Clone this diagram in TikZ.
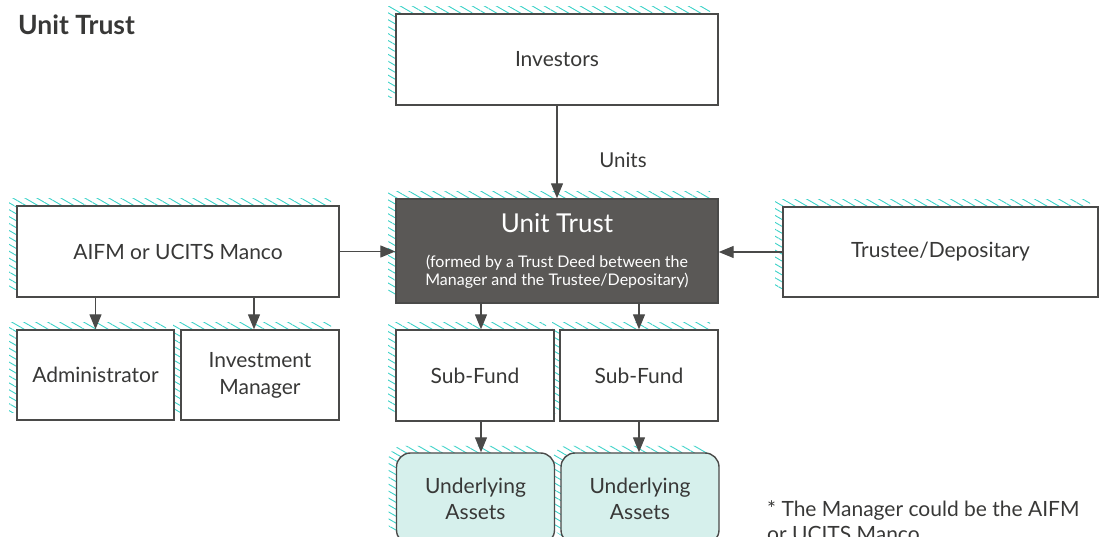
\documentclass[tikz,border=0pt]{standalone}
\usepackage{fontspec}
\setmainfont{Lato}
\usetikzlibrary{arrows.meta,shadows,patterns.meta}
\definecolor{txt}{HTML}{383837}
\definecolor{edge}{HTML}{4A4A49}
\definecolor{dark}{HTML}{5A5856}
\definecolor{mint}{HTML}{D6F0EC}
\definecolor{hatch}{HTML}{3CD2C8}
\newcommand{\subfont}{\fontsize{16}{18}\selectfont}
\tikzset{
  hshadow/.style={general shadow={shadow xshift=-8pt, shadow yshift=7pt, draw=none,
     pattern={Lines[angle=-30,distance=6pt,line width=0.9pt]}, pattern color=hatch}},
  box/.style={draw=edge, line width=1.4pt, fill=white, text=txt, inner sep=0pt,
     align=center, font=\fontsize{21}{27}\selectfont, hshadow},
  darkbox/.style={box, fill=dark, text=white},
  assetbox/.style={box, fill=mint, rounded corners=14pt, font=\fontsize{21}{26}\selectfont},
  conn/.style={draw=edge, line width=1.3pt, -{Triangle[length=15pt,width=12pt]}},
  plain/.style={text=txt, inner sep=0pt}
}
\begin{document}
\begin{tikzpicture}[x=1pt,y=-1pt]
\useasboundingbox (0,0) rectangle (1104,537);
\clip (0,0) rectangle (1104,537);
\node[plain, font=\fontsize{26.5}{30}\selectfont\bfseries, anchor=west] (title) at (18,25) {Unit Trust};
\node[box, minimum width=322pt, minimum height=91pt] (inv) at (557,59.5) {Investors};
\node[darkbox, minimum width=322pt, minimum height=104pt] (ut) at (557,251) {%
  \fontsize{26}{30}\selectfont Unit Trust\\[8pt]
  \subfont (formed by a Trust Deed between the\\[-9pt]
  \subfont Manager and the Trustee/Depositary)};
\node[box, minimum width=322pt, minimum height=91pt] (aifm) at (178,251.5) {AIFM or UCITS Manco};
\node[box, minimum width=315pt, minimum height=90pt] (trustee) at (940.5,252) {Trustee/Depositary};
\node[box, minimum width=158pt, minimum height=90pt] (im) at (260,375) {Investment\\Manager};
\node[box, minimum width=157pt, minimum height=90pt] (adm) at (95.5,375) {Administrator};
\node[box, minimum width=158pt, minimum height=91pt] (sf2) at (639,375.5) {Sub-Fund};
\node[box, minimum width=158pt, minimum height=91pt] (sf1) at (475,375.5) {Sub-Fund};
\node[assetbox, minimum width=158pt, minimum height=91pt] (ua2) at (640,498.5) {Underlying\\Assets};
\node[assetbox, minimum width=158pt, minimum height=91pt] (ua1) at (475.5,498.5) {Underlying\\Assets};
\node[plain, font=\fontsize{20.5}{24}\selectfont] (units) at (623,160) {Units};
\node[plain, font=\fontsize{21}{25}\selectfont, align=left, anchor=north west] (note) at (767,500)
  {* The Manager could be the AIFM\\or UCITS Manco};
\draw[conn] (inv.south) -- (ut.north);
\draw[conn] (aifm.east) -- (aifm.east -| ut.west);
\draw[conn] (trustee.west) -- (trustee.west -| ut.east);
\draw[conn] (adm.north |- aifm.south) -- (adm.north);
\draw[conn] ([xshift=-6pt]im.north |- aifm.south) -- ([xshift=-6pt]im.north);
\draw[conn] ([xshift=6pt]sf1.north |- ut.south) -- ([xshift=6pt]sf1.north);
\draw[conn] (sf2.north |- ut.south) -- (sf2.north);
\draw[conn] ([xshift=6pt]sf1.south) -- ([xshift=6pt]sf1.south |- ua1.north);
\draw[conn] (sf2.south) -- (sf2.south |- ua2.north);
\end{tikzpicture}
\end{document}
